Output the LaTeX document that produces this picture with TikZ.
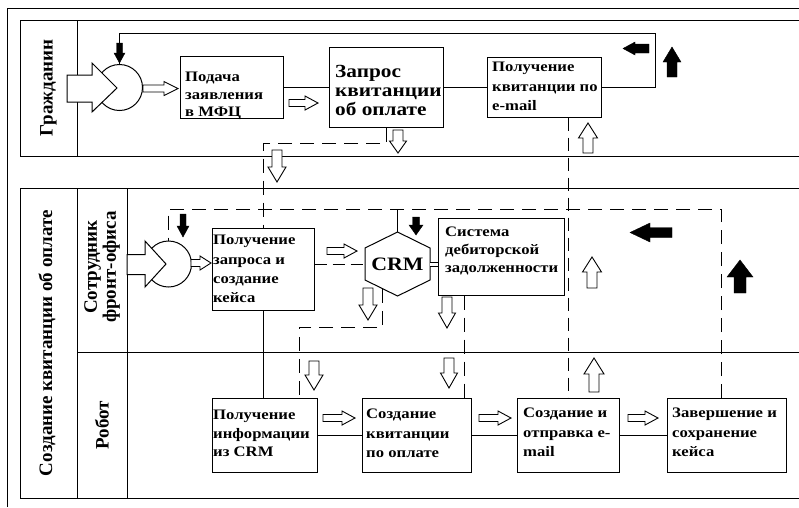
\documentclass[tikz,border=0pt]{standalone}
\usepackage{fontspec}
\setmainfont{Liberation Serif}
\newfontfamily\wideserif{Liberation Serif}[FakeStretch=1.15]
\usetikzlibrary{calc}

\newcommand\mkbox[5]{\node[boxnode, minimum width={#4-#2}, minimum height={#5-#3}] (#1) at ({(#2+#4)/2},{(#3+#5)/2}) {};}
\newcommand\glyph[8]{\draw[#1, shift={(#2,#3)}, rotate=#4] (0,0) -- (-#8,#7) -- (-#8,#6) -- (-#5,#6) -- (-#5,-#6) -- (-#8,-#6) -- (-#8,-#7) -- cycle;}

\tikzset{
  lin/.style={line width=1pt},
  dsh/.style={line width=1pt, dash pattern=on 14pt off 8pt},
  boxnode/.style={draw, line width=1pt, inner sep=0pt},
  txt/.style={font=\wideserif\bfseries\fontsize{14.5}{18.5}\selectfont, align=left, inner sep=0pt, anchor=north west},
  lbl/.style={font=\bfseries\fontsize{19}{19}\selectfont, rotate=90, align=center, inner sep=0pt},
  hol/.style={draw, fill=white, line width=0.9pt, line join=miter},
  blk/.style={draw, fill=black, line width=0.4pt},
  startev/.style={draw, circle, fill=white, line width=1pt, minimum size=46pt, inner sep=0pt},
}

\begin{document}
\begin{tikzpicture}[x=1pt, y=-1pt]
\useasboundingbox (0,0) rectangle (799,507);
\fill[white] (0,0) rectangle (799,507);

% frames
\draw[lin] (7,507) -- (7,8) -- (799,8);
\draw[lin] (799,20) -- (20,20) -- (20,156) -- (799,156);
\draw[lin] (77,20) -- (77,156);
\draw[lin] (799,188) -- (20,188) -- (20,498) -- (799,498);
\draw[lin] (77,188) -- (77,498);
\draw[lin] (127,188) -- (127,498);
\draw[lin] (77,352) -- (799,352);

% pool / lane labels
\node[lbl] (l1) at (48.5,88) {Гражданин};
\node[lbl] (l2) at (47,343) {Создание квитанции об оплате};
\node[lbl, font=\bfseries\fontsize{19}{19}\selectfont] (l3) at (102,267) {Сотрудник\\фронт-офиса};
\node[lbl] (l4) at (102,425) {Робот};

% boxes
\mkbox{b1}{180}{56}{283}{118}
\mkbox{b2}{329}{47}{443}{127}
\mkbox{b3}{487}{57}{601}{117}
\mkbox{b4}{212}{228}{314}{310}
\mkbox{b5}{438}{218}{564}{295}
\mkbox{b6}{212}{398.5}{317}{472.5}
\mkbox{b8}{362}{398.5}{471}{472.5}
\mkbox{b9}{517}{398.5}{619}{472.5}
\mkbox{b10}{667}{398.5}{786}{472.5}

% CRM hexagon
\node[inner sep=0pt, font=\wideserif\bfseries\fontsize{19}{19}\selectfont] (crm) at (397.5,264) {CRM};
\coordinate (hT) at ($(crm.center)+(0,-32)$);
\coordinate (hUR) at ($(crm.center)+(32.5,-16)$);
\coordinate (hLR) at ($(crm.center)+(32.5,16)$);
\coordinate (hB) at ($(crm.center)+(0,32)$);
\coordinate (hLL) at ($(crm.center)+(-32.5,16)$);
\coordinate (hUL) at ($(crm.center)+(-32.5,-16)$);
\draw[lin, line join=miter] (hT) -- (hUR) -- (hLR) -- (hB) -- (hLL) -- (hUL) -- cycle;
\coordinate (hA) at ($(hB)!0.45!(hLL)$);

% start events
\node[startev] (s1) at (119.5,87.5) {};
\node[startev] (s2) at (168.5,264) {};

% connectors, top pool
\draw[lin] (b1.east) -- (b2.west);
\draw[lin] (b2.east) -- (b3.west);
\draw[lin] (b3.east) -- (655,87) -- (655,33) -| (s1.north);
\draw[dsh] (b2.south) -- ++(0,16) -| (b4.north);
\draw[dsh, dash pattern=on 13pt off 7pt] (b3.south -| b9.north) -- (b9.north);

% connectors, bottom pool
\coordinate (lp) at (400,209);
\draw[dsh] ([xshift=-5.5pt]b10.north) -- ([xshift=-5.5pt]b10.north |- lp) -- (s2.north |- lp) -- (s2.north);
\draw[lin] (hT) -- (hT |- lp);
\draw[dsh, dash pattern=on 12pt off 6pt] (b4.east |- crm) -- (hUL |- crm);
\draw[lin, double, double distance=3pt] (hUR |- crm) -- (b5.west |- crm);
\draw[dsh] (hA) -- (hA |- 0,327) -| ([xshift=34.5pt]b6.north);
\draw[dsh] ([xshift=-37pt]b5.south) -- ([xshift=-37pt]b5.south |- b8.north);
\draw[lin] (b4.south) -- (b4.south |- b6.north);
\draw[lin] (b6.east) -- (b8.west);
\draw[lin] (b8.east) -- (b9.west);
\draw[lin] (b9.east) -- (b10.west);

% big arrows into start events
\draw[hol, line width=1pt] (67,75) -- (92,75) -- (92,63) -- (117,88) -- (92,112) -- (92,102) -- (67,102) -- cycle;
\draw[hol, line width=1pt] (127,254.5) -- (145,254.5) -- (145,241) -- (166,264) -- (145,287) -- (145,274.5) -- (127,274.5) -- cycle;

% hollow arrows
\glyph{hol}{178}{88.5}{0}{35}{3.5}{7}{14}
\glyph{hol}{318}{103}{0}{29}{3.5}{7}{13}
\glyph{hol}{211}{263}{0}{20}{3.5}{7}{11}
\glyph{hol}{357}{251}{0}{30}{3.5}{7}{13}
\glyph{hol}{355}{418}{0}{32}{3.5}{7}{13}
\glyph{hol}{511}{418}{0}{32}{3.5}{7}{13}
\glyph{hol}{658}{418}{0}{30}{3.5}{7}{13}
\glyph{hol}{398}{153}{-90}{23}{5}{8.5}{12}
\glyph{hol}{277}{182}{-90}{32}{5}{9}{15}
\glyph{hol}{588}{123}{90}{30}{5}{9.5}{15}
\glyph{hol}{368}{320}{-90}{32}{5}{9}{15}
\glyph{hol}{447}{328}{-90}{31}{5}{8.5}{15}
\glyph{hol}{592}{257}{90}{31}{5}{9.5}{15}
\glyph{hol}{314}{390}{-90}{29}{5}{9}{15}
\glyph{hol}{449}{388}{-90}{30}{5}{8.5}{15}
\glyph{hol}{594}{358}{90}{34}{5}{10}{16}

% black arrows
\glyph{blk}{119.5}{63}{-90}{20}{3}{5.5}{10}
\glyph{blk}{623}{48.5}{180}{26}{4.5}{6.5}{12}
\glyph{blk}{672}{47}{90}{30}{5}{9}{15}
\glyph{blk}{183}{237}{-90}{23}{3}{6}{11}
\glyph{blk}{416}{235}{-90}{18}{3.5}{7}{10}
\glyph{blk}{630}{232.5}{180}{42}{5}{9.5}{20}
\glyph{blk}{740}{260}{90}{33}{6}{13}{17}

% box texts
\node[txt, font=\wideserif\bfseries\fontsize{14.5}{17.5}\selectfont] (t1) at (185,72) {Подача\\заявления\\в МФЦ};
\node[txt, font=\wideserif\bfseries\fontsize{18.5}{18.8}\selectfont] (t2) at (335,65) {Запрос\\квитанции\\об оплате};
\node[txt, font=\wideserif\bfseries\fontsize{14.5}{19.5}\selectfont] (t3) at (492,62) {Получение\\квитанции по\\e-mail};
\node[txt, font=\wideserif\bfseries\fontsize{14.5}{19.3}\selectfont] (t4) at (213,235) {Получение\\запроса и\\создание\\кейса};
\node[txt, font=\wideserif\bfseries\fontsize{14.5}{18}\selectfont] (t5) at (445,227) {Система\\дебиторской\\задолженности};
\node[txt] (t6) at (213,410) {Получение\\информации\\из CRM};
\node[txt, font=\wideserif\bfseries\fontsize{14.5}{19.5}\selectfont] (t8) at (366,409) {Создание\\квитанции\\по оплате};
\node[txt, font=\wideserif\bfseries\fontsize{14.5}{19.5}\selectfont] (t9) at (523,408) {Создание и\\отправка e-\\mail};
\node[txt, font=\wideserif\bfseries\fontsize{14.5}{19.5}\selectfont] (t10) at (672,408) {Завершение и\\сохранение\\кейса};
\end{tikzpicture}
\end{document}
